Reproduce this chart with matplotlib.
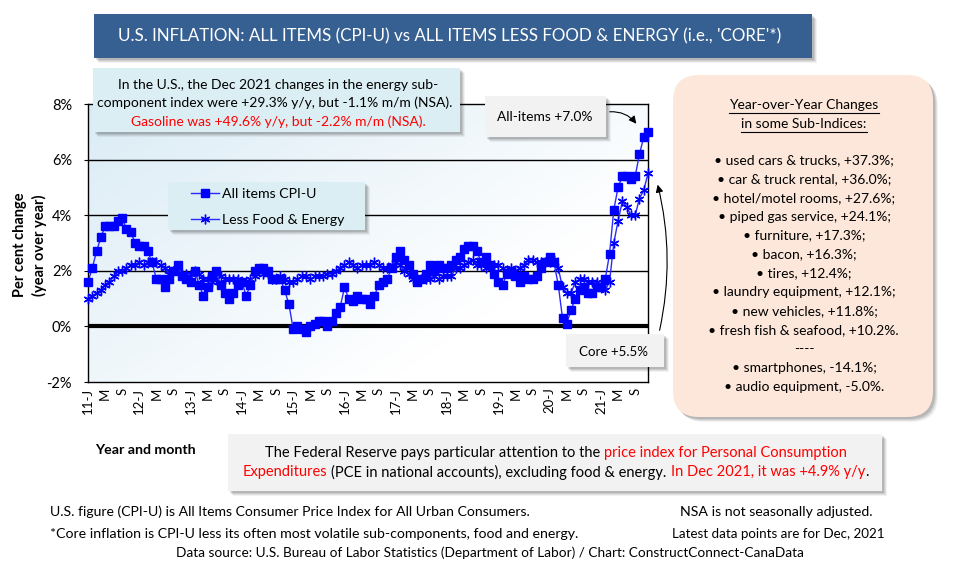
import numpy as np
import matplotlib
matplotlib.use("Agg")
import matplotlib.pyplot as plt
from matplotlib.patches import FancyBboxPatch, FancyArrowPatch
from matplotlib.lines import Line2D
from matplotlib.transforms import IdentityTransform

W, H = 960, 577
FONT = ['Lato', 'DejaVu Sans']
NARROW = ['Liberation Sans Narrow', 'Lato', 'DejaVu Sans']

# y/y % change, Jan 2011 .. Dec 2021
all_items = [1.6, 2.1, 2.7, 3.2, 3.6, 3.6, 3.6, 3.8, 3.9, 3.5, 3.4, 3.0,
             2.9, 2.9, 2.7, 2.3, 1.7, 1.7, 1.4, 1.7, 2.0, 2.2, 1.8, 1.7,
             1.6, 2.0, 1.5, 1.1, 1.4, 1.8, 2.0, 1.5, 1.2, 1.0, 1.2, 1.5,
             1.6, 1.1, 1.5, 2.0, 2.1, 2.1, 2.0, 1.7, 1.7, 1.7, 1.3, 0.8,
             -0.1, 0.0, -0.1, -0.2, 0.0, 0.1, 0.2, 0.2, 0.0, 0.2, 0.5, 0.7,
             1.4, 1.0, 0.9, 1.1, 1.0, 1.0, 0.8, 1.1, 1.5, 1.6, 1.7, 2.1,
             2.5, 2.7, 2.4, 2.2, 1.9, 1.6, 1.7, 1.9, 2.2, 2.0, 2.2, 2.1,
             2.1, 2.2, 2.4, 2.5, 2.8, 2.9, 2.9, 2.7, 2.3, 2.5, 2.2, 1.9,
             1.6, 1.5, 1.9, 2.0, 1.8, 1.6, 1.8, 1.7, 1.7, 1.8, 2.1, 2.3,
             2.5, 2.3, 1.5, 0.3, 0.1, 0.6, 1.0, 1.3, 1.4, 1.2, 1.2, 1.4,
             1.4, 1.7, 2.6, 4.2, 5.0, 5.4, 5.4, 5.3, 5.4, 6.2, 6.8, 7.0]
core = [1.0, 1.1, 1.2, 1.3, 1.5, 1.6, 1.8, 2.0, 2.0, 2.1, 2.2, 2.2,
        2.3, 2.2, 2.3, 2.3, 2.3, 2.2, 2.1, 1.9, 2.0, 2.0, 1.9, 1.9,
        1.9, 2.0, 1.9, 1.7, 1.7, 1.6, 1.7, 1.8, 1.7, 1.7, 1.7, 1.7,
        1.6, 1.6, 1.7, 1.8, 2.0, 1.9, 1.9, 1.7, 1.7, 1.8, 1.7, 1.6,
        1.6, 1.7, 1.8, 1.8, 1.7, 1.8, 1.8, 1.8, 1.9, 1.9, 2.0, 2.1,
        2.2, 2.3, 2.2, 2.1, 2.2, 2.2, 2.2, 2.3, 2.2, 2.1, 2.1, 2.2,
        2.3, 2.2, 2.0, 1.9, 1.7, 1.7, 1.7, 1.7, 1.7, 1.8, 1.7, 1.8,
        1.8, 1.8, 2.1, 2.1, 2.2, 2.3, 2.4, 2.2, 2.2, 2.1, 2.2, 2.2,
        2.2, 2.1, 2.0, 2.1, 2.0, 2.1, 2.2, 2.4, 2.4, 2.3, 2.3, 2.3,
        2.3, 2.4, 2.1, 1.4, 1.2, 1.2, 1.6, 1.7, 1.7, 1.6, 1.6, 1.6,
        1.4, 1.3, 1.6, 3.0, 3.8, 4.5, 4.3, 4.0, 4.0, 4.6, 4.9, 5.5]
years = list(range(2011, 2022))
x_tick_labels = []
for yr in years:
    x_tick_labels += [f"{yr % 100}-J", "M", "S"]
y_ticks = [-2, 0, 2, 4, 6, 8]
y_tick_labels = ['-2%', '0%', '2%', '4%', '6%', '8%']

sub_names = ['used cars & trucks', 'car & truck rental', 'hotel/motel rooms',
             'piped gas service', 'furniture', 'bacon', 'tires',
             'laundry equipment', 'new vehicles', 'fresh fish & seafood']
sub_changes = [37.3, 36.0, 27.6, 24.1, 17.3, 16.3, 12.4, 12.1, 11.8, 10.2]
neg_names = ['smartphones', 'audio equipment']
neg_changes = [-14.1, -5.0]

BLUE = '#0000ff'
RED = '#ff0000'

fig = plt.figure(figsize=(9.6, 5.77), dpi=100)
renderer = fig.canvas.get_renderer()
PX = IdentityTransform()

# ---------- plot area ----------
ax = fig.add_axes([88 / W, 1 - 382 / H, 560 / W, 278 / H])
u, v = np.meshgrid(np.linspace(0, 1, 200), np.linspace(0, 1, 200))
t = np.clip(0.75 * (1 - u) + 0.55 * v - 0.35, 0, 1)[..., None]
light = np.array([0.85, 0.92, 0.96])
grad = (1 - t) * np.ones(3) + t * light
ax.imshow(grad, extent=[0, 1, 0, 1], transform=ax.transAxes, aspect='auto',
          origin='lower', zorder=0)

x = np.arange(len(all_items))
for g in [2, 4, 6]:
    ax.axhline(g, color='black', lw=1, zorder=1)
ax.axhline(0, color='black', lw=3, zorder=1)
ax.plot(x, core, color='#2a2aff', lw=1, marker=(6, 2, 0), ms=7, mew=1,
        mec=BLUE, label='Less Food & Energy', zorder=3, clip_on=False)
ax.plot(x, all_items, color='#2a2aff', lw=1, marker='s', ms=5.5, mfc=BLUE,
        mec=BLUE, label='All items CPI-U', zorder=4, clip_on=False)

ax.set_xlim(0, len(all_items) - 1)
ax.set_ylim(-2, 8)
ax.set_yticks(y_ticks)
ax.set_yticklabels(y_tick_labels, family=FONT, fontsize=10.5)
ax.set_xticks(np.arange(0, len(all_items), 4))
ax.set_xticklabels(x_tick_labels, rotation=90, family=FONT, fontsize=9.5)
ax.tick_params(axis='y', direction='out', length=3, pad=8.5)
ax.tick_params(axis='x', length=0, pad=4)
for s in ax.spines.values():
    s.set_color('black')
    s.set_linewidth(1)


# ---------- helpers for annotation boxes ----------
def box(x0, y0, x1, y1, fc, r=0):
    style = f"round,pad=0,rounding_size={r}" if r else "square,pad=0"
    for k, a in [(5, 0.05), (4, 0.07), (3, 0.09), (2, 0.1)]:
        fig.patches.append(FancyBboxPatch((x0 + k, H - y1 - k), x1 - x0, y1 - y0,
                                          boxstyle=style, fc='black', ec='none',
                                          alpha=a, transform=PX))
    fig.patches.append(FancyBboxPatch((x0, H - y1), x1 - x0, y1 - y0,
                                      boxstyle=style, fc=fc, ec='none',
                                      transform=PX))


def measure(s, size, family, weight):
    tx = fig.text(0, 0, s, fontsize=size, family=family, weight=weight)
    w = tx.get_window_extent(renderer).width
    tx.remove()
    return w


def line(segs, xc, y, size, width=None, ha='center', family=FONT,
         weight='normal'):
    gap = measure('a a', size, family, weight) - measure('aa', size, family, weight)
    parts = []
    for s, c in segs:
        lead = len(s) - len(s.lstrip(' '))
        trail = len(s) - len(s.rstrip(' '))
        parts.append([s.strip(), c, lead * gap,
                      measure(s.strip(), size, family, weight), trail * gap])
    total = sum(p[2] + p[3] + p[4] for p in parts)
    if width:
        k = width / total
        size *= k
        for p in parts:
            p[2] *= k
            p[3] *= k
            p[4] *= k
        total = width
    cur = xc - total / 2 if ha == 'center' else xc
    x0 = cur
    for s, c, a, w, b in parts:
        cur += a
        fig.text(cur, H - y, s, color=c, fontsize=size, family=family,
                 weight=weight, ha='left', va='center', transform=PX, zorder=5)
        cur += w + b
    return size, x0, total


# ---------- legend ----------
box(168, 182, 365, 230, '#dbeef4')
handles, labels = ax.get_legend_handles_labels()
fig.legend(handles[::-1], labels[::-1], loc='center left',
           bbox_to_anchor=(191, H - 207), bbox_transform=PX,
           prop={'family': FONT, 'size': 10.2}, frameon=False,
           handlelength=1.95, handletextpad=0.25, borderpad=0,
           labelspacing=0.95, borderaxespad=0)

# ---------- title ----------
box(94, 14, 812, 58, '#365f92')
line([("U.S. INFLATION: ALL ITEMS (CPI-U) vs ALL ITEMS LESS FOOD & ENERGY (i.e., 'CORE'*)", 'white')],
     452, 36, 14, width=669)

# ---------- energy note ----------
box(93, 68, 460, 132, '#dbeef4')
sz, _, _ = line([("component index were +29.3% y/y, but -1.1% m/m (NSA).", 'black')],
                275, 103, 11, width=356)
line([("In the U.S., the Dec 2021 changes in the energy sub-", 'black')], 278, 85, sz)
line([("Gasoline was +49.6% y/y, but -2.2% m/m (NSA).", RED)], 278, 122, sz)

# ---------- arrow callouts ----------
box(485, 96, 606, 137, '#f2f2f2')
line([("All-items +7.0%", 'black')], 545, 117, 10.5, width=96)
box(566, 334, 664, 367, '#f2f2f2')
line([("Core +5.5%", 'black')], 614, 352, 10.5, width=70)
fig.patches.append(FancyArrowPatch((607, H - 112), (638, H - 126), transform=PX,
                                   connectionstyle='arc3,rad=-0.3',
                                   arrowstyle='-|>', mutation_scale=11,
                                   color='black', lw=0.8))
fig.patches.append(FancyArrowPatch((659, H - 333), (657, H - 182), transform=PX,
                                   connectionstyle='arc3,rad=0.12',
                                   arrowstyle='-|>', mutation_scale=11,
                                   color='black', lw=0.8))

# ---------- sub-indices panel ----------
box(673, 75, 933, 417, '#fce7da', r=26)
items = [f"\u2022 {n}, {v:+.1f}%" for n, v in zip(sub_names, sub_changes)]
neg = [f"\u2022 {n}, {v:+.1f}%" for n, v in zip(neg_names, neg_changes)]
items = [s + ';' for s in items[:-1]] + [items[-1] + '.']
neg = [s + ';' for s in neg[:-1]] + [neg[-1] + '.']
rows = items + ['----'] + neg
sz, _, _ = line([(rows[9], 'black')], 804, 330, 10.5, width=192)
y = 160
for i, r in enumerate(rows):
    if i != 9:
        line([(r, 'black')], 804, y, sz)
    y += 18.9
for txt, yy in [("Year-over-Year Changes", 105), ("in some Sub-Indices:", 124)]:
    _, x0, w = line([(txt, 'black')], 804, yy, sz)
    fig.lines.append(Line2D([x0, x0 + w], [H - yy - 8, H - yy - 8], color='black',
                            lw=0.8, transform=PX))

# ---------- PCE note ----------
box(228, 434, 882, 491, '#f2f2f2')
sz, _, _ = line([("Expenditures", RED),
                 (" (PCE in national accounts), excluding food & energy. ", 'black'),
                 ("In Dec 2021, it was +4.9% y/y", RED), (".", 'black')],
                556, 472, 10.5, width=626)
line([("The Federal Reserve pays particular attention to the ", 'black'),
      ("price index for Personal Consumption", RED)], 556, 453, sz)

# ---------- axis titles ----------
line([("Year and month", 'black')], 95, 450, 10, width=101, ha='left', weight='bold')
fig.text(30, H - 245, "Per cent change\n(year over year)", rotation=90,
         ha='center', va='center', fontsize=10.5, weight='bold', family=FONT,
         linespacing=1.35, transform=PX)

# ---------- footnotes ----------
line([("U.S. figure (CPI-U) is All Items Consumer Price Index for All Urban Consumers.", 'black')],
     50, 512, 10, width=478, ha='left', family=NARROW)
line([("*Core inflation is CPI-U less its often most volatile sub-components, food and energy.", 'black')],
     50, 534, 10, width=528, ha='left', family=NARROW)
line([("Data source: U.S. Bureau of Labor Statistics (Department of Labor) / Chart: ConstructConnect-CanaData", 'black')],
     490, 553, 10, width=627, family=NARROW)
line([("NSA is not seasonally adjusted.", 'black')], 777, 512, 10, width=193, family=NARROW)
line([("Latest data points are for Dec, 2021", 'black')], 778, 534, 10, width=212, family=NARROW)

fig.savefig("out.png", dpi=100)
